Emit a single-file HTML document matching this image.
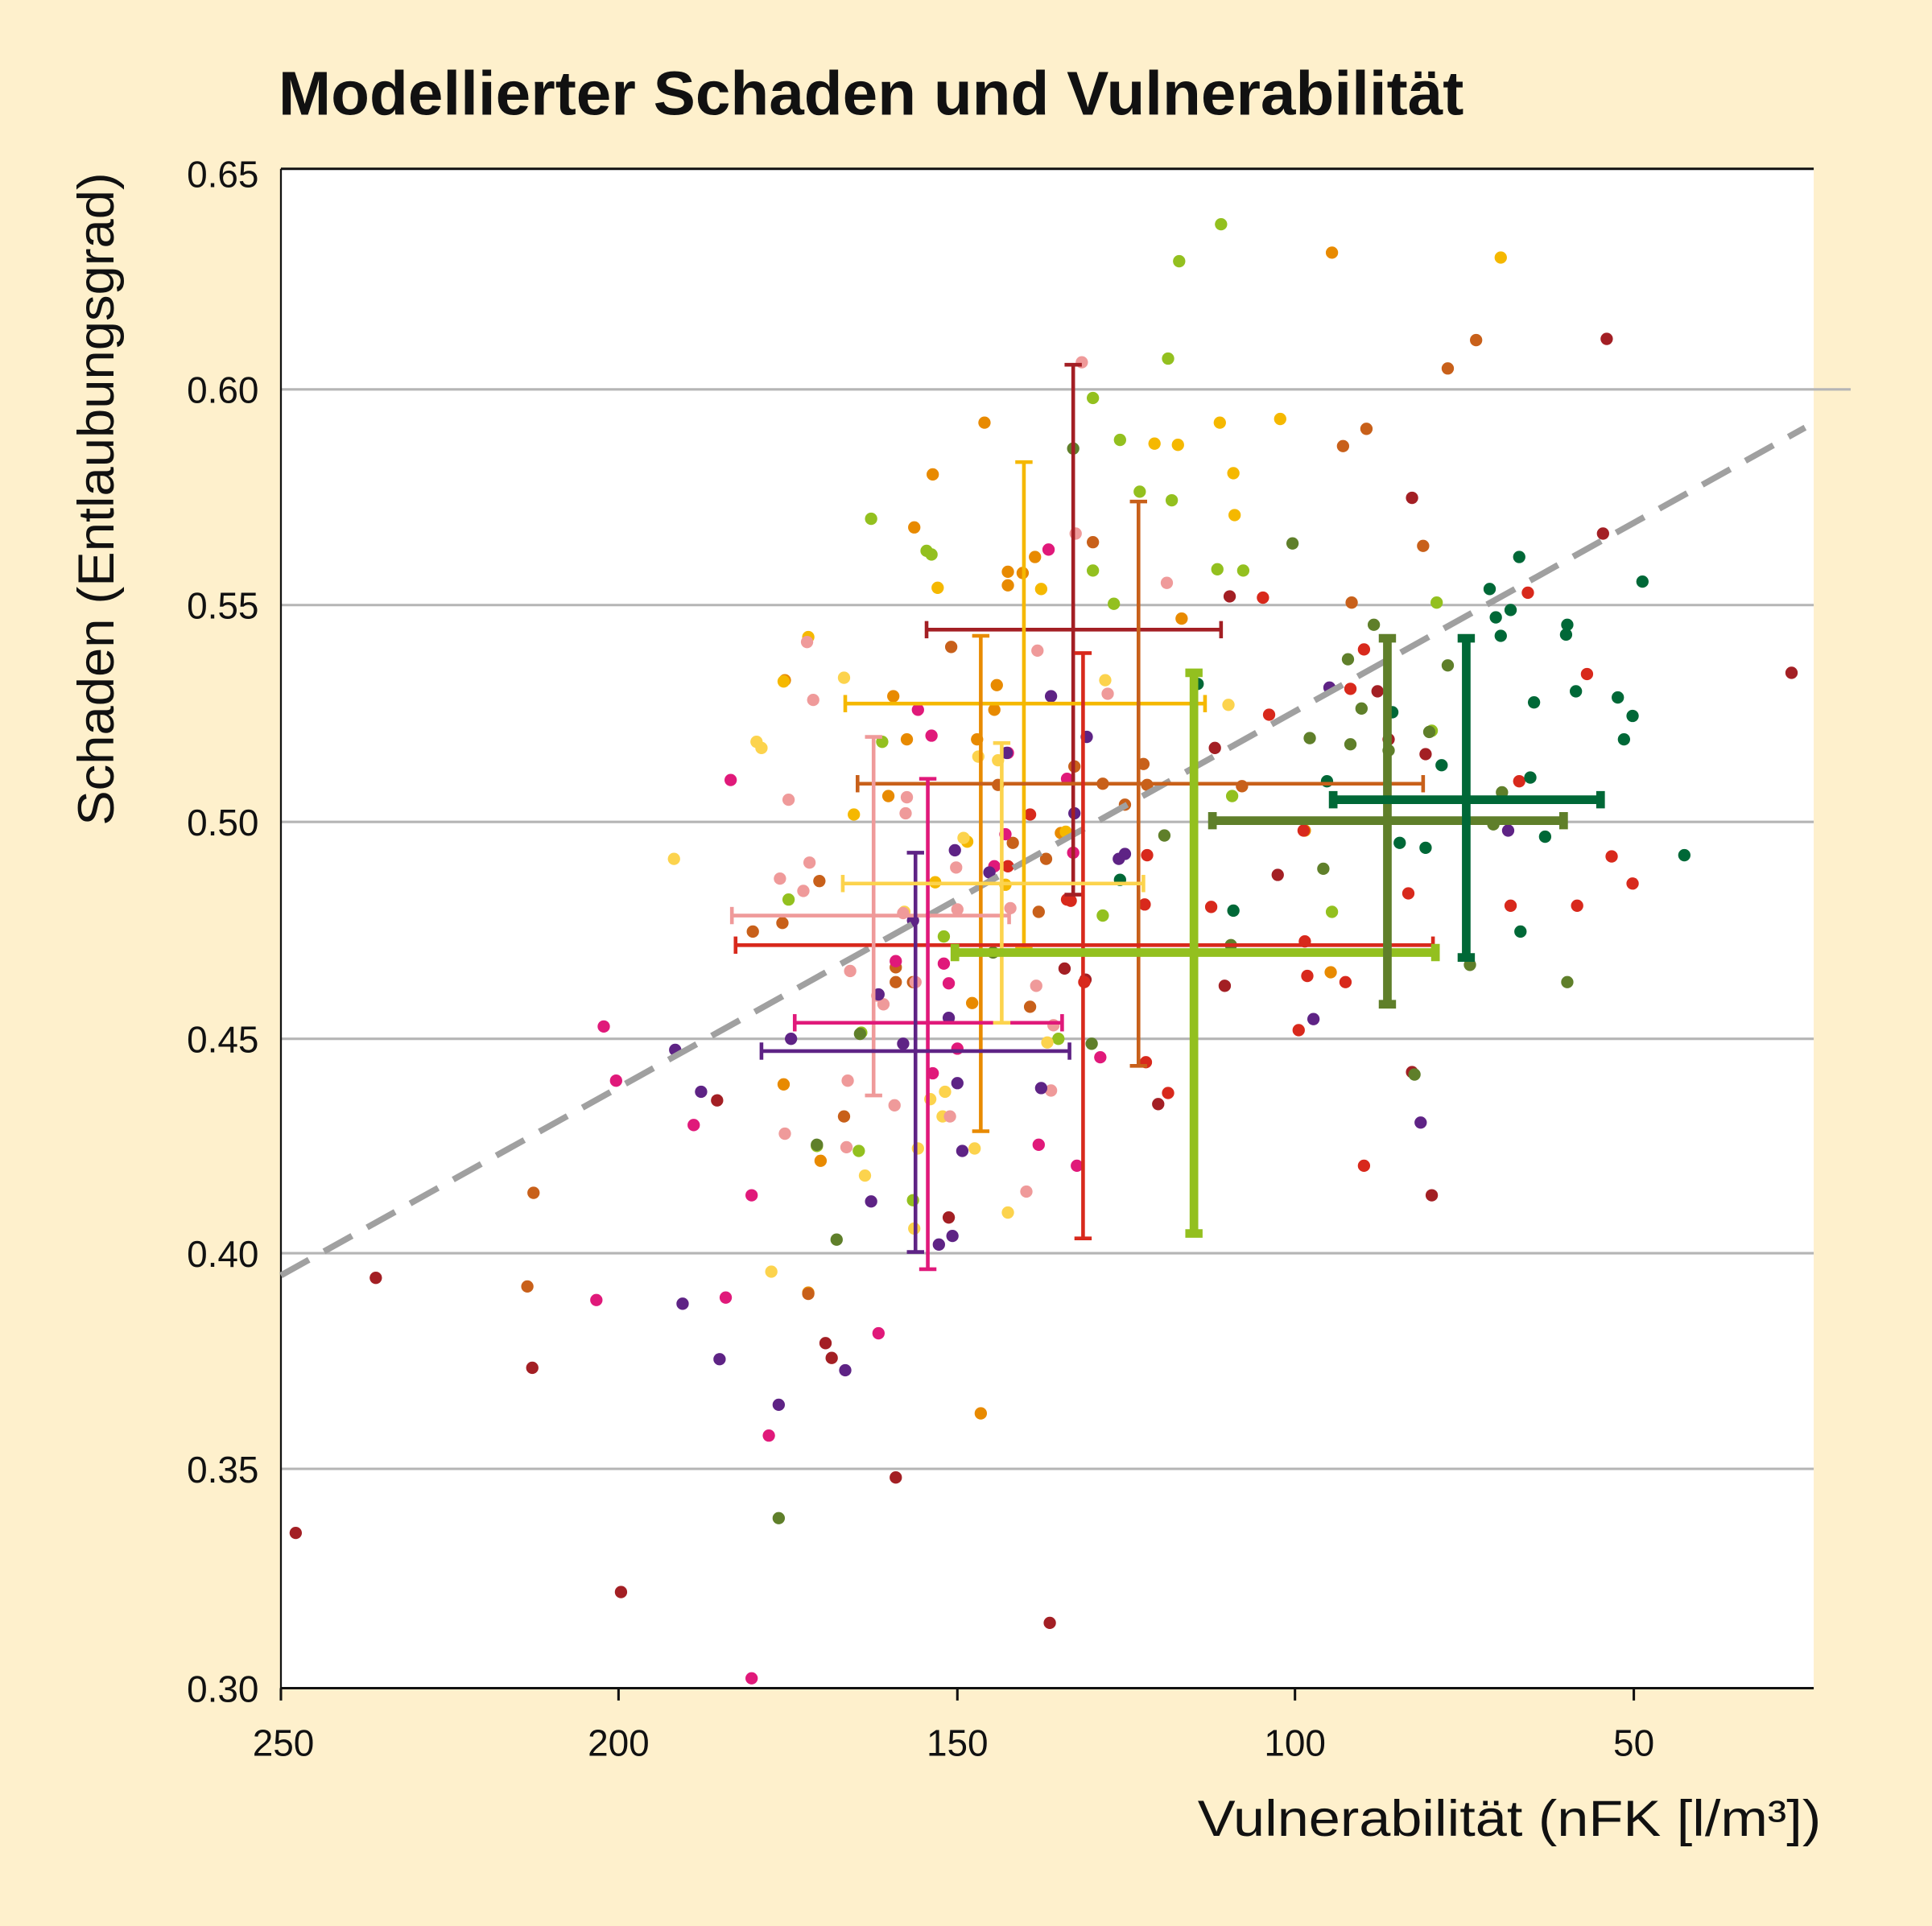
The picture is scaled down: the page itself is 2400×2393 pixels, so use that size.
<!DOCTYPE html>
<html><head><meta charset="utf-8"><style>
html,body{margin:0;padding:0;background:#fef0cc}
svg{display:block}
text{font-family:"Liberation Sans","DejaVu Sans",sans-serif;fill:#111}
</style></head><body>
<svg id="s" width="2400" height="2393" viewBox="0 0 1568 1563" preserveAspectRatio="none" xmlns="http://www.w3.org/2000/svg">
<rect x="0" y="0" width="1568" height="1563" fill="#fef0cc"/>
<rect x="228" y="137" width="1244" height="1233" fill="#ffffff"/>
<text x="226" y="93" font-size="50" font-weight="bold" textLength="962" lengthAdjust="spacingAndGlyphs">Modellierter Schaden und Vulnerabilität</text>
<g stroke="#b5b5b5" stroke-width="2">
<line x1="228" y1="316" x2="1502" y2="316"/>
<line x1="228" y1="491" x2="1472" y2="491"/>
<line x1="228" y1="667" x2="1472" y2="667"/>
<line x1="228" y1="843" x2="1472" y2="843"/>
<line x1="228" y1="1017" x2="1472" y2="1017"/>
<line x1="228" y1="1192" x2="1472" y2="1192"/>
</g>
<line x1="228" y1="137" x2="1472" y2="137" stroke="#111" stroke-width="2"/>
<line x1="228" y1="1370" x2="1472" y2="1370" stroke="#111" stroke-width="2"/>
<line x1="228" y1="137" x2="228" y2="1370" stroke="#111" stroke-width="1.5"/>
<g stroke="#111" stroke-width="2">
<line x1="228" y1="1370" x2="228" y2="1380"/><line x1="502" y1="1370" x2="502" y2="1380"/><line x1="777" y1="1370" x2="777" y2="1380"/><line x1="1051" y1="1370" x2="1051" y2="1380"/><line x1="1326" y1="1370" x2="1326" y2="1380"/>
</g>
<g font-size="30" text-anchor="end">
<text x="210" y="152">0.65</text><text x="210" y="327">0.60</text><text x="210" y="502">0.55</text><text x="210" y="678">0.50</text><text x="210" y="854">0.45</text><text x="210" y="1028">0.40</text><text x="210" y="1203">0.35</text><text x="210" y="1381">0.30</text>
</g>
<g font-size="30" text-anchor="middle">
<text x="230" y="1425">250</text><text x="502" y="1425">200</text><text x="777" y="1425">150</text><text x="1051" y="1425">100</text><text x="1326" y="1425">50</text>
</g>
<text x="972" y="1490" font-size="41" textLength="506" lengthAdjust="spacingAndGlyphs">Vulnerabilität (nFK [l/m³])</text>
<text transform="translate(92,670) rotate(-90)" font-size="41" textLength="530" lengthAdjust="spacingAndGlyphs">Schaden (Entlaubungsgrad)</text>
<g id="pts"></g>
<line x1="228" y1="1035" x2="1465" y2="347" stroke="#a0a0a0" stroke-width="5" stroke-dasharray="26,14"/>
<g id="bars"></g>
</svg>
<script>
var C={G:"#93c01f",O:"#e88a00",Y:"#f5b800",LY:"#fcd34d",B:"#c8601a",R:"#a31f24",r:"#d8291c",P:"#ef9a9a",M:"#e0197a",V:"#5e2385",Ol:"#5f7f2a",D:"#006837"};
var P={
G:[991,182,957,212,948,291,887,323,909,357,925,399,951,406,707,421,752,447,756,450,887,463,988,462,1009,463,904,490,1166,489,716,602,640,730,766,760,859,843,699,838,663,930,697,934,741,974,1081,740,1000,646,1162,593,895,743],
O:[1081,205,799,343,757,385,742,428,830,465,818,475,809,556,807,576,725,565,736,600,793,600,637,552,636,880,666,942,656,1049,796,1147,861,676,1059,674,1080,789,789,814,840,452,818,464,959,502,721,646],
Y:[1218,209,1039,340,990,343,1001,384,1002,418,937,360,956,361,845,478,761,477,656,517,636,553,693,661,816,718,785,683,865,675,759,716],
LY:[547,697,614,602,618,607,685,550,897,552,997,572,794,614,810,617,782,680,734,740,626,1032,702,954,755,892,765,906,767,886,745,932,818,984,791,932,850,846,742,997],
B:[1198,276,1175,299,1090,362,1109,348,1155,443,1097,489,772,525,887,440,928,620,931,637,913,653,895,636,810,637,822,684,849,697,843,740,836,817,665,715,611,756,635,749,741,797,727,785,685,906,727,797,433,968,428,1044,656,1050,1008,638,872,622],
R:[1304,275,1146,404,998,484,1118,561,1157,612,1127,600,1037,710,1162,970,1146,870,1301,433,1454,546,940,896,994,800,864,786,670,1090,675,1102,432,1110,305,1037,240,1244,504,1292,727,1199,852,1317,582,893,770,988,881,795,986,607],
r:[1025,485,1030,580,1107,527,1096,559,1240,481,1288,547,1058,674,1061,792,1054,836,1092,797,1107,946,1143,725,1226,735,1280,735,1308,695,1325,717,1233,634,983,736,931,694,929,734,930,862,948,887,880,797,869,731,836,661,818,703,866,730,1059,764],
P:[878,294,873,433,947,473,842,528,899,563,655,521,660,568,640,649,736,647,735,660,733,741,657,700,633,713,652,723,690,788,726,897,743,797,776,704,777,738,771,906,637,920,687,931,688,877,820,737,833,967,853,885,855,832,712,808,717,815,841,800],
M:[593,633,490,833,500,877,563,913,484,1055,589,1053,610,970,624,1165,713,1082,610,1362,851,446,745,576,756,597,818,611,816,677,807,703,766,782,727,780,770,798,777,851,757,871,843,929,874,946,893,858,866,632,871,692],
V:[548,852,569,886,554,1058,584,1103,632,1140,686,1112,707,975,762,1010,773,1003,775,690,741,747,781,934,777,879,817,611,853,565,882,598,908,697,913,693,845,883,803,708,642,843,713,807,1079,558,1153,911,1066,827,1224,674,872,660,733,847,770,826],
Ol:[1049,441,1115,507,1094,535,1105,575,1096,604,1063,599,1074,705,1160,594,1127,609,1175,540,1212,669,1219,643,1193,783,1148,872,1272,797,663,929,679,1006,632,1232,871,364,945,678,999,767,886,847,698,839,806,773],
D:[1233,452,1209,478,1214,501,1218,516,1226,495,1272,507,1271,515,1333,472,1279,561,1245,570,1313,566,1325,581,1318,600,1242,631,1254,679,1234,756,1367,694,1157,688,1136,684,1130,578,1077,634,1001,739,1170,621,909,714,972,555]
};
var g=document.getElementById("pts"),h="";
for(var k in P){var a=P[k];for(var i=0;i<a.length;i+=2)h+='<circle cx="'+a[i]+'" cy="'+a[i+1]+'" r="5" fill="'+C[k]+'"/>';}
g.innerHTML=h;
var E=[
["R",871,296,726,511,752,991,3,7],
["Y",831,375,770,571,686,978,3,7],
["O",796,516,918,600,796,796,3,7],
["B",924,407,865,636,696,1155,3,7],
["r",879,530,1005,767,597,1163,3,7],
["P",709,598,889,743,594,819,3,7],
["M",753,632,1030,830,645,862,3,7],
["V",743,692,1016,853,618,868,3,7],
["LY",813,603,830,717,684,928,3,7],
["G",969,546,1001,773,775,1165,7,7],
["Ol",1126,518,815,666,984,1269,7,7],
["D",1190,518,777,649,1082,1299,7,7]
];
var b="";
E.forEach(function(e){var c=C[e[0]],w=e[7],k=e[8];
b+='<g stroke="'+c+'" stroke-width="'+w+'" fill="none">';
b+='<line x1="'+e[1]+'" y1="'+e[2]+'" x2="'+e[1]+'" y2="'+e[3]+'"/>';
b+='<line x1="'+(e[1]-k)+'" y1="'+e[2]+'" x2="'+(e[1]+k)+'" y2="'+e[2]+'"/>';
b+='<line x1="'+(e[1]-k)+'" y1="'+e[3]+'" x2="'+(e[1]+k)+'" y2="'+e[3]+'"/>';
if(e[5]!=e[6]){
b+='<line x1="'+e[5]+'" y1="'+e[4]+'" x2="'+e[6]+'" y2="'+e[4]+'"/>';
b+='<line x1="'+e[5]+'" y1="'+(e[4]-k)+'" x2="'+e[5]+'" y2="'+(e[4]+k)+'"/>';
b+='<line x1="'+e[6]+'" y1="'+(e[4]-k)+'" x2="'+e[6]+'" y2="'+(e[4]+k)+'"/>';}
b+='</g>';});
document.getElementById("bars").innerHTML=b;
</script>
</body></html>
